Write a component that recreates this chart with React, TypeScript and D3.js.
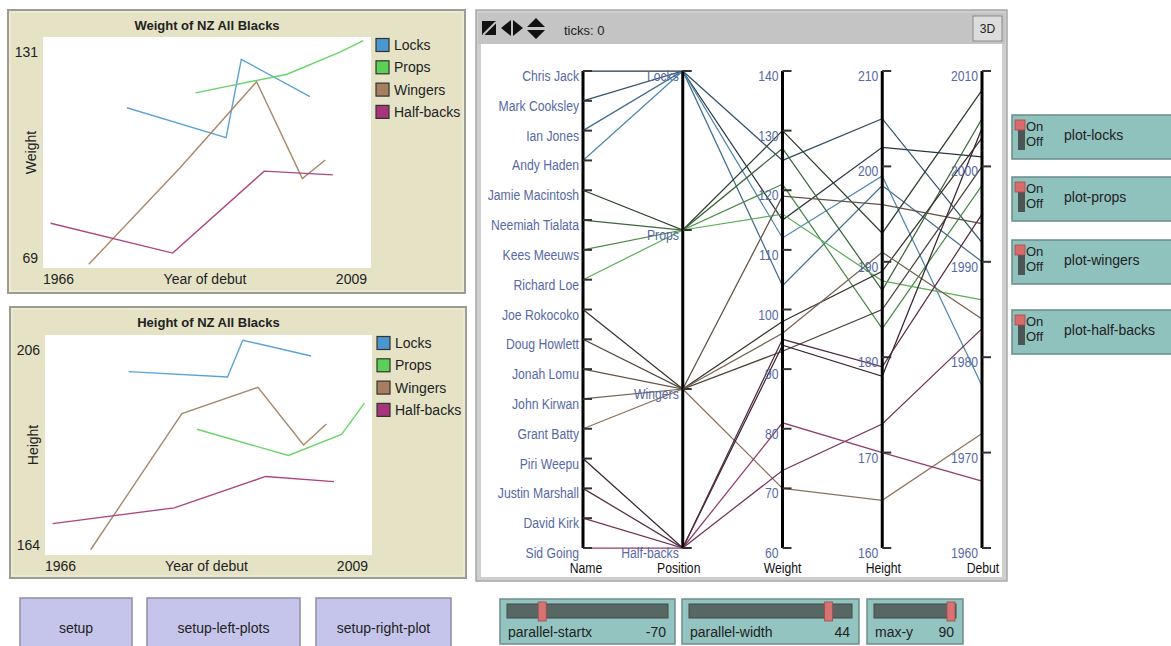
import * as d3 from "d3";

// players, listed top to bottom as on the Name axis
const names = [
  "Chris Jack", "Mark Cooksley", "Ian Jones", "Andy Haden",
  "Jamie Macintosh", "Neemiah Tialata", "Kees Meeuws", "Richard Loe",
  "Joe Rokocoko", "Doug Howlett", "Jonah Lomu", "John Kirwan", "Grant Batty",
  "Piri Weepu", "Justin Marshall", "David Kirk", "Sid Going",
];
const playerPositions = [
  "Locks", "Locks", "Locks", "Locks",
  "Props", "Props", "Props", "Props",
  "Wingers", "Wingers", "Wingers", "Wingers", "Wingers",
  "Half-backs", "Half-backs", "Half-backs", "Half-backs",
];
const weights = [115, 125, 104, 112, 130, 127, 121, 116, 98, 93, 119, 96, 70, 94, 95, 73, 81];
const heights = [202, 205, 198, 199, 193, 187, 183, 188, 189, 185, 196, 191, 165, 178, 179, 173, 170];
const debuts = [2001, 1992, 1990, 1977, 2008, 2005, 1998, 1986, 2003, 2000, 1994, 1984, 1972, 2004, 1995, 1983, 1967];

const positions = ["Locks", "Props", "Wingers", "Half-backs"];
const lineColors = ["#5aa4d5", "#6ad567", "#a88869", "#ad4583"];
const legendColors = ["#4a96cf", "#5ccf55", "#a57f5f", "#a6357b"];

const debutRange = [1966, 2009];
const weightPlotRange = [69, 131];
const heightPlotRange = [164, 206];

const parallelAxes = ["Name", "Position", "Weight", "Height", "Debut"];
const weightTicks = [60, 70, 80, 90, 100, 110, 120, 130, 140];
const heightTicks = [160, 170, 180, 190, 200, 210];
const debutTicks = [1960, 1970, 1980, 1990, 2000, 2010];

const switchLabels = ["plot-locks", "plot-props", "plot-wingers", "plot-half-backs"];
const sliderNames = ["parallel-startx", "parallel-width", "max-y"];
const sliderValues = [-70, 44, 90];
const sliderMins = [-100, 0, 0];
const sliderMaxs = [50, 50, 90];
const buttonLabels = ["setup", "setup-left-plots", "setup-right-plot"];

const uiFont = "'Liberation Sans', Arial, sans-serif";
const tickBlue = "#5669a6";

function Narrow({ x, y, anchor = "start", size = 14, fill = tickBlue, children }) {
  return (
    <text
      transform={`translate(${x},${y}) scale(0.87,1)`}
      textAnchor={anchor}
      fontSize={size}
      fontFamily={uiFont}
      fill={fill}
    >
      {children}
    </text>
  );
}

function LinePlot({ id, frame, area, title, yLabel, values, yDomain }) {
  const x = d3.scaleLinear().domain(debutRange).range([area.x0, area.x1]);
  const y = d3.scaleLinear().domain(yDomain).range([area.y1, area.y0]);
  const line = d3.line<number[]>().x((d) => x(d[0])).y((d) => y(d[1]));
  const series = positions.map((p, pi) => {
    const pts = names
      .map((_, i) => i)
      .filter((i) => playerPositions[i] === p)
      .map((i) => [debuts[i], values[i]])
      .sort((a, b) => a[0] - b[0]);
    return { p, pts, color: lineColors[pi] };
  });
  const midX = (area.x0 + area.x1) / 2;
  const midY = (area.y0 + area.y1) / 2;
  return (
    <g fontFamily={uiFont}>
      <rect x={frame.x} y={frame.y} width={frame.w} height={frame.h} fill="#e5e2c6" stroke="#9c9c90" strokeWidth={2} />
      <rect x={frame.x + 2} y={frame.y + 2} width={frame.w - 4} height={frame.h - 4} fill="none" stroke="#f3f1e0" strokeWidth={1} />
      <text x={midX} y={frame.y + 20} textAnchor="middle" fontSize={13} fontWeight="bold" fill="#222">{title}</text>
      <rect x={area.x0} y={area.y0} width={area.x1 - area.x0} height={area.y1 - area.y0} fill="#fff" />
      <clipPath id={id}>
        <rect x={area.x0} y={area.y0} width={area.x1 - area.x0} height={area.y1 - area.y0} />
      </clipPath>
      <g clipPath={`url(#${id})`}>
        {series.map((s) => (
          <path key={s.p} d={line(s.pts) || ""} fill="none" stroke={s.color} strokeWidth={1.4} />
        ))}
      </g>
      <text x={area.x0 - 5} y={area.y0 + 20} textAnchor="end" fontSize={14} fill="#222">{yDomain[1]}</text>
      <text x={area.x0 - 5} y={area.y1 - 5} textAnchor="end" fontSize={14} fill="#222">{yDomain[0]}</text>
      <text x={area.x0} y={area.y1 + 16} fontSize={14} fill="#222">{debutRange[0]}</text>
      <text x={area.x1 - 4} y={area.y1 + 16} textAnchor="end" fontSize={14} fill="#222">{debutRange[1]}</text>
      <text x={midX - 2} y={area.y1 + 16} textAnchor="middle" fontSize={14} fill="#222">Year of debut</text>
      <text transform={`translate(${area.x0 - 7},${midY}) rotate(-90)`} textAnchor="middle" fontSize={14} fill="#222">{yLabel}</text>
      {positions.map((p, i) => {
        const cy = area.y0 + 8 + i * 22.3;
        return (
          <g key={p}>
            <rect x={area.x1 + 5} y={cy - 6.5} width={13} height={13} fill={legendColors[i]} stroke="#333" strokeWidth={1.2} />
            <text x={area.x1 + 23} y={cy + 5} fontSize={14} fill="#222">{p}</text>
          </g>
        );
      })}
    </g>
  );
}

function ParallelView() {
  const top = 71;
  const bottom = 548;
  const axisX = d3.scalePoint().domain(parallelAxes).range([583, 982]);
  const nameY = d3.scalePoint().domain(names).range([top, bottom]);
  const posY = d3.scalePoint().domain(positions).range([top, bottom]);
  const wY = d3.scaleLinear().domain([60, 140]).range([bottom, top]);
  const hY = d3.scaleLinear().domain([160, 210]).range([bottom, top]);
  const dY = d3.scaleLinear().domain([1960, 2010]).range([bottom, top]);
  const line = d3.line<number[]>();

  const playerLines = names.map((n, i) => {
    const pi = positions.indexOf(playerPositions[i]);
    const group = names.filter((_, j) => playerPositions[j] === playerPositions[i]);
    const k = group.indexOf(n);
    const t = 0.2 + 0.6 * (1 - k / (group.length - 1));
    const color = d3.interpolateRgb(lineColors[pi], "#1c1c1c")(t);
    const pts = [
      [axisX("Name"), nameY(n)],
      [axisX("Position"), posY(playerPositions[i])],
      [axisX("Weight"), wY(weights[i])],
      [axisX("Height"), hY(heights[i])],
      [axisX("Debut"), dY(debuts[i])],
    ];
    return { n, d: line(pts) || "", color };
  });

  const axisTicks = [
    names.map((n) => ({ y: nameY(n), label: n })),
    positions.map((p) => ({ y: posY(p), label: p })),
    weightTicks.map((v) => ({ y: wY(v), label: String(v) })),
    heightTicks.map((v) => ({ y: hY(v), label: String(v) })),
    debutTicks.map((v) => ({ y: dY(v), label: String(v) })),
  ];
  const titleShift = [3, -4, 0, 1, 1];

  return (
    <g>
      <rect x={476} y={10} width={531} height={571} fill="#cfcfcf" stroke="#a8a8a8" strokeWidth={1.5} />
      <rect x={478} y={13} width={527} height={31} fill="#c4c4c4" />
      {/* toolbar icons */}
      <rect x={482} y={21} width={14} height={14} fill="#111" />
      <line x1={483} y1={35} x2={496} y2={22} stroke="#c4c4c4" strokeWidth={2} />
      <path d="M501,28 L511,20 L511,36 Z M513,20 L523,28 L513,36 Z" fill="#111" />
      <path d="M527,27 L536,18 L545,27 Z M527,30 L545,30 L536,39 Z" fill="#111" />
      <text x={564} y={35} fontSize={13} fontFamily={uiFont} fill="#222">ticks: 0</text>
      <rect x={973} y={16} width={29} height={25} fill="#dcdcdc" stroke="#8a8a8a" />
      <text x={987.5} y={33} textAnchor="middle" fontSize={12} fontFamily={uiFont} fill="#222">3D</text>

      <rect x={481} y={44} width={521} height={533} fill="#fff" />
      {playerLines.map((p) => (
        <path key={p.n} d={p.d} fill="none" stroke={p.color} strokeWidth={1.25} />
      ))}
      {parallelAxes.map((a, ai) => {
        const x = axisX(a) as number;
        return (
          <g key={a}>
            <line x1={x} y1={top} x2={x} y2={bottom} stroke="#000" strokeWidth={3} />
            {axisTicks[ai].map((t) => (
              <g key={t.label}>
                <line x1={x} y1={t.y} x2={x + 9} y2={t.y} stroke="#333" strokeWidth={2} />
                <Narrow x={x - 4} y={t.y + 10} anchor="end">{t.label}</Narrow>
              </g>
            ))}
            <Narrow x={x + titleShift[ai]} y={573} anchor="middle" fill="#111">{a}</Narrow>
          </g>
        );
      })}
    </g>
  );
}

function Switches() {
  return (
    <g fontFamily={uiFont}>
      {switchLabels.map((s, i) => {
        const y = [115, 177, 240, 310][i];
        return (
          <g key={s}>
            <rect x={1012} y={y} width={170} height={44} fill="#8fc1bd" stroke="#6b8c89" strokeWidth={1.5} />
            <rect x={1018} y={y + 14} width={7} height={21} fill="#4b5553" />
            <rect x={1015} y={y + 5} width={10} height={10} fill="#d86c6c" stroke="#a84c4c" strokeWidth={0.8} />
            <text x={1026} y={y + 16} fontSize={13} fill="#222">On</text>
            <text x={1026} y={y + 31} fontSize={13} fill="#222">Off</text>
            <text x={1064} y={y + 25} fontSize={14} fill="#222">{s}</text>
          </g>
        );
      })}
    </g>
  );
}

function Sliders() {
  const boxes = [
    { x: 500, w: 175 },
    { x: 682, w: 177 },
    { x: 867, w: 96 },
  ];
  return (
    <g fontFamily={uiFont}>
      {sliderNames.map((s, i) => {
        const b = boxes[i];
        const t0 = b.x + 7;
        const t1 = b.x + b.w - 7;
        const knob = d3
          .scaleLinear()
          .domain([sliderMins[i], sliderMaxs[i]])
          .range([t0 + 5, t1 - 5]);
        const kx = knob(sliderValues[i]);
        return (
          <g key={s}>
            <rect x={b.x} y={599} width={b.w} height={45} fill="#93c4c0" stroke="#6d8f8c" strokeWidth={1.5} />
            <rect x={t0} y={604} width={t1 - t0} height={14} fill="#586664" stroke="#3f4a48" />
            <rect x={kx - 4} y={602} width={8} height={19} fill="#d87373" stroke="#9c4d4d" strokeWidth={0.8} />
            <text x={b.x + 8} y={637} fontSize={14} fill="#222">{s}</text>
            <text x={b.x + b.w - 9} y={637} textAnchor="end" fontSize={14} fill="#222">{sliderValues[i]}</text>
          </g>
        );
      })}
    </g>
  );
}

function Buttons() {
  const boxes = [
    { x: 20, w: 112 },
    { x: 147, w: 153 },
    { x: 316, w: 135 },
  ];
  return (
    <g fontFamily={uiFont}>
      {buttonLabels.map((b, i) => (
        <g key={b}>
          <rect x={boxes[i].x} y={598} width={boxes[i].w} height={56} fill="#c5c5eb" stroke="#8d8da3" strokeWidth={1.5} />
          <text x={boxes[i].x + boxes[i].w / 2} y={633} textAnchor="middle" fontSize={14} fill="#222">{b}</text>
        </g>
      ))}
    </g>
  );
}

export default function App() {
  return (
    <svg
      width={1171}
      height={646}
      style={{ position: "absolute", left: 0, top: 0, background: "#fff" }}
    >
      <LinePlot
        id="clip-weight"
        frame={{ x: 8, y: 10, w: 457, h: 283 }}
        area={{ x0: 43, x1: 371, y0: 37, y1: 268 }}
        title="Weight of NZ All Blacks"
        yLabel="Weight"
        values={weights}
        yDomain={weightPlotRange}
      />
      <LinePlot
        id="clip-height"
        frame={{ x: 10, y: 307, w: 456, h: 271 }}
        area={{ x0: 45, x1: 372, y0: 335, y1: 555 }}
        title="Height of NZ All Blacks"
        yLabel="Height"
        values={heights}
        yDomain={heightPlotRange}
      />
      <ParallelView />
      <Switches />
      <Sliders />
      <Buttons />
    </svg>
  );
}
